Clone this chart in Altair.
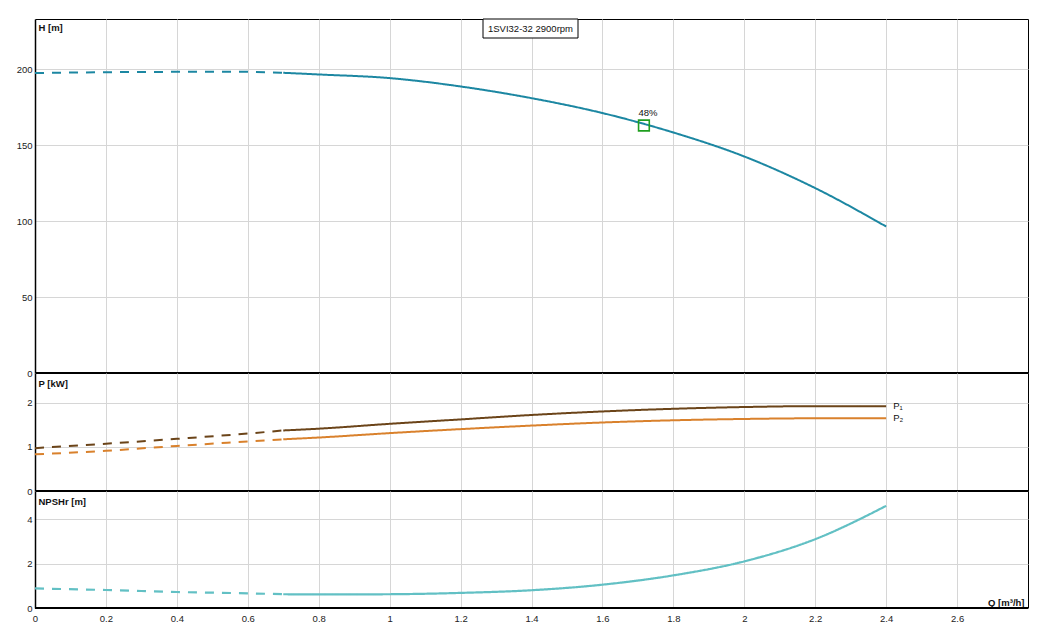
import altair as alt
import pandas as pd

# ---- data ----
Q = [0, 0.2, 0.4, 0.6, 0.7, 0.8, 1.0, 1.2, 1.4, 1.6, 1.8, 2.0, 2.2, 2.4]
H = [197.4, 198.0, 198.2, 198.2, 197.6, 196.5, 194.1, 188.6, 180.9, 171.1, 158.3, 142.5, 121.7, 96.4]
P1 = [0.97, 1.07, 1.18, 1.30, 1.37, 1.41, 1.52, 1.62, 1.72, 1.80, 1.86, 1.90, 1.92, 1.92]
P2 = [0.83, 0.91, 1.02, 1.12, 1.17, 1.21, 1.31, 1.40, 1.48, 1.55, 1.60, 1.63, 1.645, 1.645]
NPSH = [0.88, 0.81, 0.72, 0.66, 0.62, 0.61, 0.62, 0.68, 0.80, 1.05, 1.47, 2.10, 3.10, 4.60]
DASH_END = 0.7

BEP_Q = [1.717]
BEP_H = [162.9]
BEP_LABEL = ["48%"]
TITLE = ["1SVI32-32 2900rpm"]
P_LABELS = ["P\u2081", "P\u2082"]

X_TICKS = [0, 0.2, 0.4, 0.6, 0.8, 1.0, 1.2, 1.4, 1.6, 1.8, 2.0, 2.2, 2.4, 2.6]
H_TICKS = [0, 50, 100, 150, 200]
P_TICKS = [0, 1, 2]
N_TICKS = [0, 2, 4]

W = 993
FONT = "Liberation Sans"


def long_df(series_dict):
    rows = []
    for name, vals in series_dict.items():
        for q, v in zip(Q, vals):
            if q <= DASH_END:
                rows.append({"Q": q, "v": v, "series": name, "seg": "dashed", "key": name + "d"})
            if q >= DASH_END:
                rows.append({"Q": q, "v": v, "series": name, "seg": "solid", "key": name + "s"})
    return pd.DataFrame(rows)


xscale = alt.Scale(domain=[0, 2.8], nice=False, zero=False)
dash_scale = alt.Scale(domain=["dashed", "solid"], range=[[9, 8], [1, 0]])


def x_axis(show):
    if show:
        return alt.Axis(values=X_TICKS, format=".1~f", ticks=False, domain=False, labelPadding=5,
                        labelFlush=False, grid=True, title="Q [m\u00b3/h]", titleAngle=0,
                        titleX=W - 4, titleY=-6, titleAlign="right", titleBaseline="middle",
                        minExtent=14, maxExtent=14)
    return alt.Axis(values=X_TICKS, labels=False, ticks=False, domain=False, grid=True, title=None,
                    labelPadding=0, minExtent=0, maxExtent=0, offset=0)


def y_axis(values, title, ty):
    return alt.Axis(values=values, ticks=False, labelPadding=3, labelFlush=False,
                    domainColor="black", domainWidth=1.5, minExtent=19, maxExtent=19,
                    title=title, titleAngle=0, titleX=3, titleY=ty, titleAlign="left",
                    titleBaseline="middle")


def zero_rule():
    return alt.Chart(pd.DataFrame({"y": [0]})).mark_rule(color="black", strokeWidth=2).encode(
        y="y:Q")


# ---- H panel ----
dfH = long_df({"H": H})
yH = alt.Scale(domain=[0, 233], nice=False)
h_line = alt.Chart(dfH).mark_line(strokeWidth=2, color="#1c87a2", interpolate="monotone").encode(
    x=alt.X("Q:Q", scale=xscale, axis=x_axis(False)),
    y=alt.Y("v:Q", scale=yH, axis=y_axis(H_TICKS, "H [m]", 8)),
    detail="key:N",
    strokeDash=alt.StrokeDash("seg:N", scale=dash_scale, legend=None),
)
bep = pd.DataFrame({"Q": BEP_Q, "v": BEP_H, "lab": BEP_LABEL})
bep_pt = alt.Chart(bep).mark_point(shape="square", filled=False, size=115, color="#1f9e1f",
                                   strokeWidth=1.6, opacity=1).encode(x="Q:Q", y="v:Q")
bep_txt = alt.Chart(bep).mark_text(font=FONT, fontSize=9.5, color="#111", dy=-13, dx=4).encode(
    x="Q:Q", y="v:Q", text="lab:N")
tdf = pd.DataFrame({"t": TITLE})
tbox = alt.Chart(tdf).mark_rect(fill="white", stroke="black", strokeWidth=1).encode(
    x=alt.value(448), x2=alt.value(543), y=alt.value(0), y2=alt.value(19))
ttxt = alt.Chart(tdf).mark_text(font=FONT, fontSize=9.5, color="#111").encode(
    x=alt.value(495.5), y=alt.value(10), text="t:N")
panelH = alt.layer(h_line, zero_rule(), bep_pt, bep_txt, tbox, ttxt).properties(width=W, height=354)

# ---- P panel ----
dfP = long_df({"P1": P1, "P2": P2})
yP = alt.Scale(domain=[0, 2.67], nice=False)
p_line = alt.Chart(dfP).mark_line(strokeWidth=2, interpolate="monotone").encode(
    x=alt.X("Q:Q", scale=xscale, axis=x_axis(False)),
    y=alt.Y("v:Q", scale=yP, axis=y_axis(P_TICKS, "P [kW]", 10)),
    color=alt.Color("series:N", scale=alt.Scale(domain=["P1", "P2"], range=["#6b4419", "#d9812c"]),
                    legend=None),
    detail="key:N",
    strokeDash=alt.StrokeDash("seg:N", scale=dash_scale, legend=None),
)
plab = pd.DataFrame({"Q": [Q[-1], Q[-1]], "v": [P1[-1], P2[-1]], "lab": P_LABELS})
p_txt = alt.Chart(plab).mark_text(font=FONT, fontSize=9.5, color="#111", align="left", dx=7).encode(
    x="Q:Q", y="v:Q", text="lab:N")
panelP = alt.layer(p_line, zero_rule(), p_txt).properties(width=W, height=118)

# ---- NPSH panel ----
dfN = long_df({"N": NPSH})
yN = alt.Scale(domain=[0, 5.27], nice=False)
n_line = alt.Chart(dfN).mark_line(strokeWidth=2.2, color="#62c0c4", interpolate="monotone").encode(
    x=alt.X("Q:Q", scale=xscale, axis=x_axis(True)),
    y=alt.Y("v:Q", scale=yN, axis=y_axis(N_TICKS, "NPSHr [m]", 10)),
    detail="key:N",
    strokeDash=alt.StrokeDash("seg:N", scale=dash_scale, legend=None),
)
panelN = alt.layer(n_line, zero_rule()).properties(width=W, height=117)

chart = alt.vconcat(panelH, panelP, panelN, spacing=0, bounds="flush").resolve_scale(
    y="independent", color="independent", strokeDash="independent"
).properties(
    padding={"left": 7, "top": 10, "right": 0, "bottom": 0}
).configure_view(stroke="black", strokeWidth=1).configure_axis(
    labelFont=FONT, labelFontSize=9.5, labelColor="#222", gridColor="#d6d6d6", gridWidth=1,
    titleFont=FONT, titleFontSize=9.5, titleFontWeight="bold", titleColor="#111"
)

chart.save("out.html", embed_options={"renderer": "svg", "actions": False})
